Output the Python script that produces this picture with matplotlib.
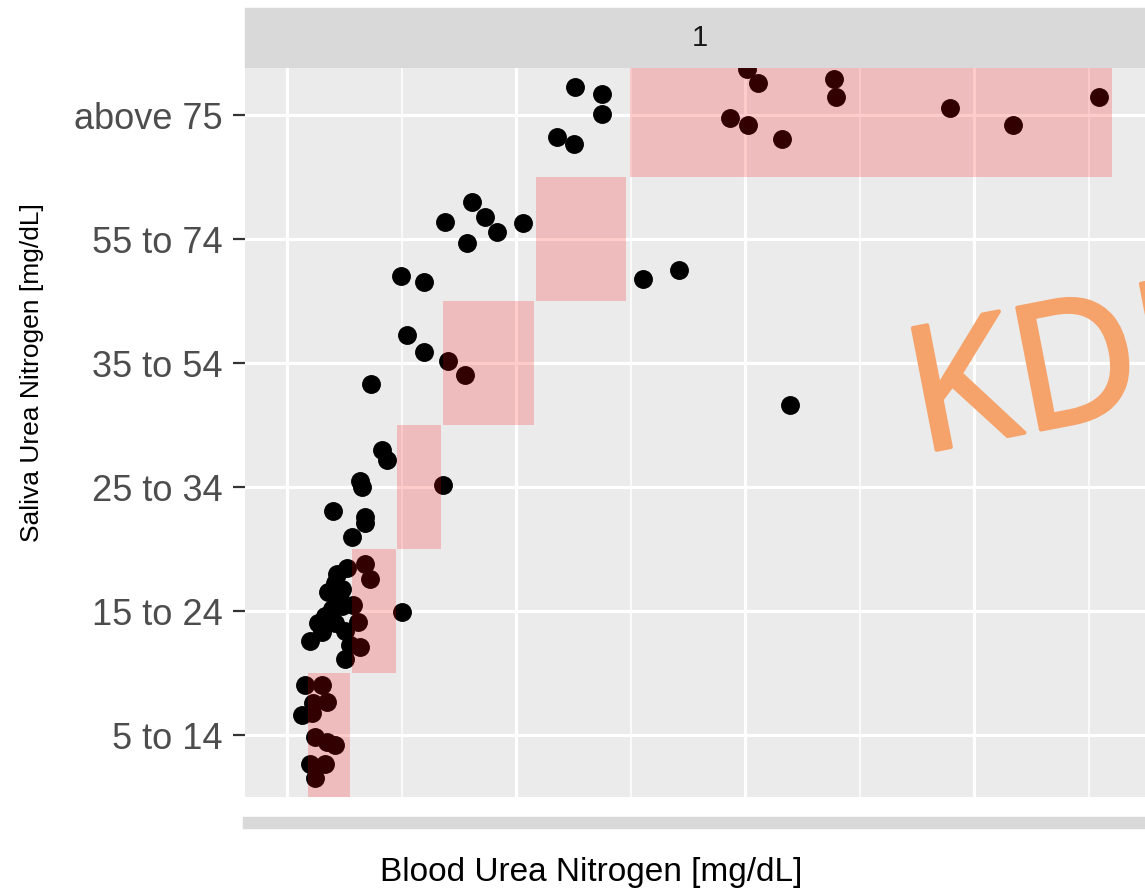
"""Saliva vs blood urea nitrogen, ggplot-style facet panel."""

import matplotlib

matplotlib.use("Agg")
import matplotlib.patheffects as pe
import matplotlib.pyplot as plt
import numpy as np

plt.rcParams["font.family"] = ["Liberation Sans", "DejaVu Sans"]

# saliva urea nitrogen categories (y axis, bottom to top)
sun_labels = ["5 to 14", "15 to 24", "25 to 34", "35 to 54", "55 to 74", "above 75"]

# matching BUN ranges shaded for each category
band_lo = [4.6, 14.2, 24.1, 34.1, 54.3, 74.9]
band_hi = [13.8, 23.8, 33.7, 53.9, 74.1, 180.0]

# points per category: BUN value and vertical jitter
bun_5_14 = [3.9, 7.6, 8.7, 5.7, 3.3, 5.5, 6.1, 8.7, 10.5, 5.0, 8.3, 6.1]
jit_5_14 = [0.40, 0.40, 0.27, 0.26, 0.16, 0.18, -0.02, -0.06, -0.08, -0.23, -0.23, -0.35]

bun_15_24 = [17.0, 18.1, 13.1, 10.5, 9.0, 12.0, 11.6, 9.8, 12.0, 8.3,
             6.8, 7.6, 5.0, 10.5, 12.7, 15.5, 15.9, 12.7, 13.8, 25.1,
             11.0, 14.5, 9.3]
jit_15_24 = [0.38, 0.26, 0.35, 0.23, 0.15, 0.18, 0.10, 0.02, 0.04, -0.04,
             -0.10, -0.17, -0.24, -0.10, -0.16, -0.09, -0.29, -0.39, -0.27, -0.01,
             0.30, 0.05, -0.03]

bun_25_34 = [20.7, 21.8, 15.9, 16.4, 34.1, 10.0, 17.0, 17.0, 14.2]
jit_25_34 = [0.30, 0.22, 0.05, 0.00, 0.02, -0.19, -0.24, -0.29, -0.40]

bun_35_54 = [26.2, 29.9, 35.2, 38.9, 18.3, 109.8]
jit_35_54 = [0.23, 0.09, 0.02, -0.10, -0.17, -0.34]

bun_55_74 = [40.4, 34.5, 43.2, 45.9, 51.5, 39.3, 24.9, 29.9, 77.7, 85.6]
jit_55_74 = [0.30, 0.14, 0.18, 0.06, 0.13, -0.03, -0.30, -0.35, -0.32, -0.25]

bun_75 = [62.9, 68.8, 68.8, 58.9, 62.7, 100.4, 102.8, 96.7, 100.7, 108.1,
          119.4, 119.9, 144.8, 158.5, 177.3]
jit_75 = [0.23, 0.17, 0.01, -0.18, -0.23, 0.37, 0.26, -0.02, -0.08, -0.19,
          0.29, 0.15, 0.06, -0.08, 0.15]

groups = [(bun_5_14, jit_5_14), (bun_15_24, jit_15_24), (bun_25_34, jit_25_34),
          (bun_35_54, jit_35_54), (bun_55_74, jit_55_74), (bun_75, jit_75)]

W, H = 1145, 890
fig = plt.figure(figsize=(W / 100, H / 100), dpi=100)
fig.patch.set_facecolor("white")

ax = fig.add_axes([245 / W, 1 - 797 / H, 1 - 245 / W, (797 - 68) / H])
ax.set_facecolor("#EBEBEB")
for s in ax.spines.values():
    s.set_visible(False)

levels = np.arange(1, len(sun_labels) + 1)
for lvl, (xs, js) in zip(levels, groups):
    ax.scatter(xs, lvl + np.array(js), s=185, color="black", linewidths=0, zorder=2)

ax.bar(band_lo, 1.0, width=np.subtract(band_hi, band_lo), bottom=levels - 0.5,
       align="edge", color="red", alpha=0.2, linewidth=0, zorder=3)

ax.set_xlim(-9.17, 187.3)
ax.set_ylim(0.5, 6.38)
ax.set_xticks([0, 50, 100, 150])
ax.set_xticks([25, 75, 125, 175], minor=True)
ax.set_yticks(levels)
ax.set_yticklabels(sun_labels)
ax.set_axisbelow(True)
ax.grid(which="major", color="white", linewidth=2.3)
ax.grid(which="minor", axis="x", color="white", linewidth=1.1)
ax.tick_params(axis="x", which="both", length=0, labelbottom=False)
ax.tick_params(axis="y", length=9, width=1.6, color="#333333",
               labelsize=26, labelcolor="#4D4D4D", pad=7)

# facet strip on top and grey bar underneath
fig.add_artist(plt.Rectangle((245 / W, 1 - 68 / H), 1, 60 / H,
                             transform=fig.transFigure, color="#D9D9D9", zorder=0))
fig.text(700 / W, 1 - 38 / H, "1", ha="center", va="center", fontsize=21, color="#1A1A1A")
fig.add_artist(plt.Rectangle((243 / W, 1 - 828 / H), 1, 11 / H,
                             transform=fig.transFigure, color="#D9D9D9", zorder=0))

fig.text(591 / W, 1 - 873 / H, "Blood Urea Nitrogen [mg/dL]", ha="center", va="center",
         fontsize=24, color="black")
fig.text(32 / W, 1 - 373 / H, "Saliva Urea Nitrogen [mg/dL]", ha="center", va="center",
         rotation=90, fontsize=19, color="black")

# watermark, cut by the right edge as in the source image
wm_color = "#F5A36B"
fig.text(920 / W, 1 - 453 / H, "KDIGO", rotation=11, rotation_mode="anchor",
         ha="left", va="baseline", fontsize=125,
         family=["Open Sans", "DejaVu Sans"], color=wm_color, zorder=5,
         path_effects=[pe.withStroke(linewidth=3, foreground=wm_color)])

fig.savefig("out.png", dpi=100)
plt.close(fig)
